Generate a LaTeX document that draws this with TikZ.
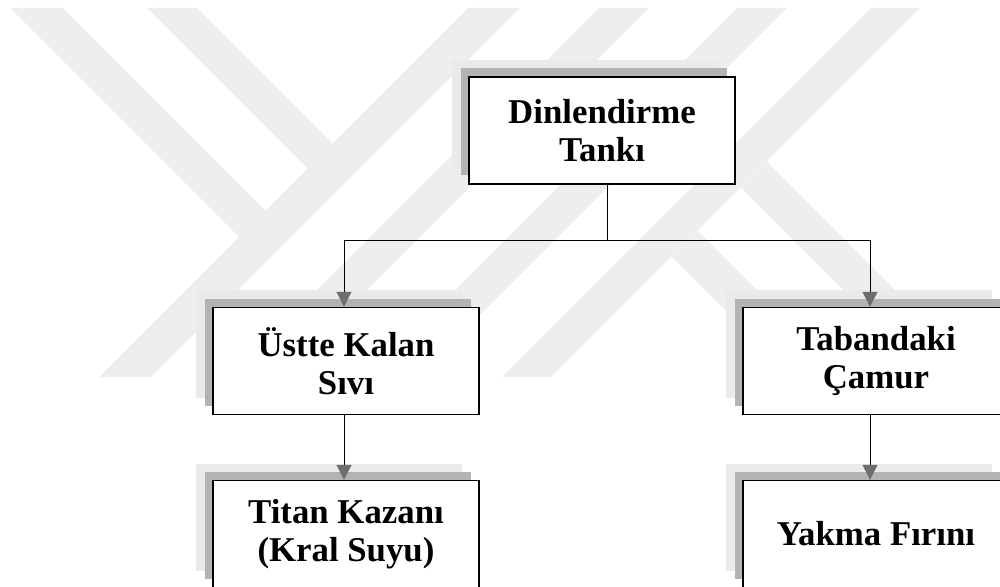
\documentclass[tikz,border=0pt]{standalone}
\usepackage{fontspec}
\setmainfont{Liberation Serif}
\usetikzlibrary{arrows.meta,shadows}
\definecolor{markgray}{HTML}{EEEEEE}
\definecolor{shadedark}{HTML}{B3B3B3}
\definecolor{shadelight}{HTML}{EAEAEA}
\definecolor{tipgray}{HTML}{6E6E6E}

\begin{document}
\begin{tikzpicture}[x=0.5pt, y=-0.5pt,
		stage/.style={draw=black, line width=0.7pt, fill=white, align=center,
			minimum width=133pt, minimum height=53.5pt, inner sep=2pt,
			font=\bfseries\fontsize{17.4}{19}\selectfont,
			general shadow={fill=shadelight, shadow xshift=-8.5pt, shadow yshift=8.5pt},
			general shadow={fill=shadedark, shadow xshift=-4.25pt, shadow yshift=4.25pt}},
		link/.style={line width=0.5pt, -{Triangle[width=7.5pt, length=7.5pt, color=tipgray]}}]
			\useasboundingbox (0,0) rectangle (1000,587);
			\clip (0,0) rectangle (1000,587);

			% Watermark in the back (Y on the left)
			\fill[markgray] (10,8) -- (63,8) -- (265.5,210.5) -- (239,237) -- cycle;
			\fill[markgray] (147,8) -- (197,8) -- (332.5,143.5) -- (307.5,168.5) -- cycle;
			\fill[markgray] (468,8) -- (520,8) -- (151,377) -- (99,377) -- cycle;
			\fill[markgray] (599,8) -- (649,8) -- (280,377) -- (230,377) -- cycle;
			% Watermark (K on the right)
			\fill[markgray] (737,8) -- (787,8) -- (418,377) -- (368,377) -- cycle;
			\fill[markgray] (871,8) -- (920,8) -- (551,377) -- (502,377) -- cycle;
			\fill[markgray] (697.5,230.5) -- (844,377) -- (792,377) -- (671.5,256.5) -- cycle;
			\fill[markgray] (766.5,161.5) -- (982,377) -- (930,377) -- (740.5,187.5) -- cycle;

			% Boxes
			\node[stage] (tank) at (602,130.5) {Dinlendirme\\Tankı};
			\node[stage] (liquid) at (346,361) {Üstte Kalan\\Sıvı};
			\node[stage] (sludge) at (876,361) {Tabandaki\\Çamur};
			\node[stage] (titan) at (346,534) {Titan Kazanı\\(Kral Suyu)};
			\node[stage] (kiln) at (876,534) {Yakma Fırını};

			% Split under the tank
			\coordinate (split) at (607,241);
			\draw[line width=0.5pt] (tank.south -| split) -- (split);
			\draw[link] (split) -| ([xshift=-1pt]liquid.north);
			\draw[link] (split) -| ([xshift=-3pt]sludge.north);

			% Down to the last step
			\draw[link] ([xshift=-1pt]liquid.south) -- ([xshift=-1pt]titan.north);
			\draw[link] ([xshift=-3pt]sludge.south) -- ([xshift=-3pt]kiln.north);
		\end{tikzpicture}
\end{document}
